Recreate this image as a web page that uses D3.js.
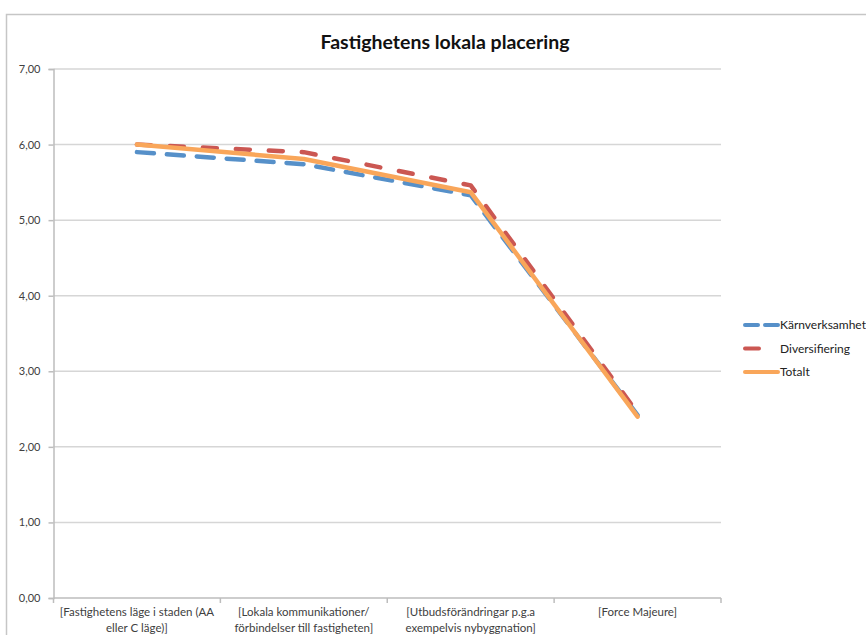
<!DOCTYPE html>
<html>
<head>
<meta charset="utf-8">
<script src="https://cdn.jsdelivr.net/npm/d3@7"></script>
<style>
  body { margin: 0; background: #fff; }
  svg { font-family: Lato, "Open Sans", sans-serif; }
</style>
</head>
<body>
<div id="chart"></div>
<script>
const categories = [
  ["[Fastighetens läge i staden (AA", "eller C läge)]"],
  ["[Lokala kommunikationer/", "förbindelser till fastigheten]"],
  ["[Utbudsförändringar p.g.a", "exempelvis nybyggnation]"],
  ["[Force Majeure]"]
];
const karnverksamhet = [5.90, 5.74, 5.33, 2.42];
const diversifiering = [6.00, 5.90, 5.46, 2.45];
const totalt = [6.00, 5.81, 5.37, 2.40];
const yTicks = [0, 1, 2, 3, 4, 5, 6, 7];

const series = [
  {name: "Kärnverksamhet", values: karnverksamhet, color: "#5690c9", dash: "17,13", legendDash: "13,7"},
  {name: "Diversifiering", values: diversifiering, color: "#cb5752", dash: "14,19", legendDash: "14,30"},
  {name: "Totalt", values: totalt, color: "#f9a65a", dash: null, legendDash: null}
];

const W = 866, H = 635;
const svg = d3.select("#chart").append("svg")
  .attr("width", W).attr("height", H);

// chart frame
svg.append("rect")
  .attr("x", 6.5).attr("y", 14.5)
  .attr("width", W + 20).attr("height", H + 20)
  .attr("fill", "#fff")
  .attr("stroke", "#c6c6c6").attr("stroke-width", 1.5);

svg.append("text")
  .attr("x", 445).attr("y", 49)
  .attr("text-anchor", "middle")
  .attr("font-size", 19.5).attr("font-weight", "bold")
  .attr("fill", "#111")
  .text("Fastighetens lokala placering");

const plot = {left: 53.5, right: 721, top: 69, bottom: 598};

const x = d3.scaleBand()
  .domain(d3.range(categories.length))
  .range([plot.left, plot.right]);
const y = d3.scaleLinear().domain([0, 7]).range([plot.bottom, plot.top]);

// gridlines
svg.append("g")
  .selectAll("line")
  .data(yTicks.filter(d => d > 0))
  .join("line")
  .attr("x1", plot.left).attr("x2", plot.right)
  .attr("y1", d => y(d)).attr("y2", d => y(d))
  .attr("stroke", "#d6d6d6").attr("stroke-width", 1.5);

// y axis
const yAxis = svg.append("g")
  .attr("transform", `translate(${plot.left},0)`)
  .call(d3.axisLeft(y).tickValues(yTicks).tickSize(5).tickPadding(8)
    .tickFormat(d => d3.format(".2f")(d).replace(".", ",")));
yAxis.select(".domain").attr("stroke", "#bdbdbd").attr("stroke-width", 1.5);
yAxis.selectAll(".tick line").attr("stroke", "#bdbdbd").attr("stroke-width", 1.5);
yAxis.selectAll(".tick text").attr("font-size", 11).attr("fill", "#404040")
  .attr("font-family", "Lato, sans-serif");

// x axis
const xAxisG = svg.append("g").attr("transform", `translate(0,${plot.bottom})`);
xAxisG.append("line")
  .attr("x1", plot.left).attr("x2", plot.right)
  .attr("stroke", "#bdbdbd").attr("stroke-width", 1.5);
xAxisG.selectAll(".xtick")
  .data(d3.range(categories.length + 1))
  .join("line")
  .attr("class", "xtick")
  .attr("x1", i => i < categories.length ? x(i) : plot.right)
  .attr("x2", i => i < categories.length ? x(i) : plot.right)
  .attr("y1", 0).attr("y2", 5)
  .attr("stroke", "#bdbdbd").attr("stroke-width", 1.5);
const xl = xAxisG.selectAll(".xlabel")
  .data(categories)
  .join("text")
  .attr("class", "xlabel")
  .attr("text-anchor", "middle")
  .attr("font-size", 11.5).attr("fill", "#404040")
  .attr("transform", (d, i) => `translate(${x(i) + x.bandwidth() / 2},18)`);
xl.selectAll("tspan")
  .data(d => d)
  .join("tspan")
  .attr("x", 0)
  .attr("dy", (d, j) => j === 0 ? 0 : 15.5)
  .text(d => d);

// lines
const line = d3.line()
  .x((d, i) => x(i) + x.bandwidth() / 2)
  .y(d => y(d));

svg.append("g")
  .selectAll("path")
  .data(series)
  .join("path")
  .attr("d", d => line(d.values))
  .attr("fill", "none")
  .attr("stroke", d => d.color)
  .attr("stroke-width", 4.5)
  .attr("stroke-linecap", "round")
  .attr("stroke-linejoin", "round")
  .attr("stroke-dasharray", d => d.dash);

// legend
const legend = svg.append("g").attr("transform", "translate(743,325)");
const li = legend.selectAll("g")
  .data(series)
  .join("g")
  .attr("transform", (d, i) => `translate(0,${i * 23.5})`);
li.append("line")
  .attr("x1", 2).attr("x2", 35)
  .attr("stroke", d => d.color)
  .attr("stroke-width", 4)
  .attr("stroke-linecap", "round")
  .attr("stroke-dasharray", d => d.legendDash);
li.append("text")
  .attr("x", 37).attr("y", 4)
  .attr("font-size", 12).attr("fill", "#222")
  .text(d => d.name);
</script>
</body>
</html>
